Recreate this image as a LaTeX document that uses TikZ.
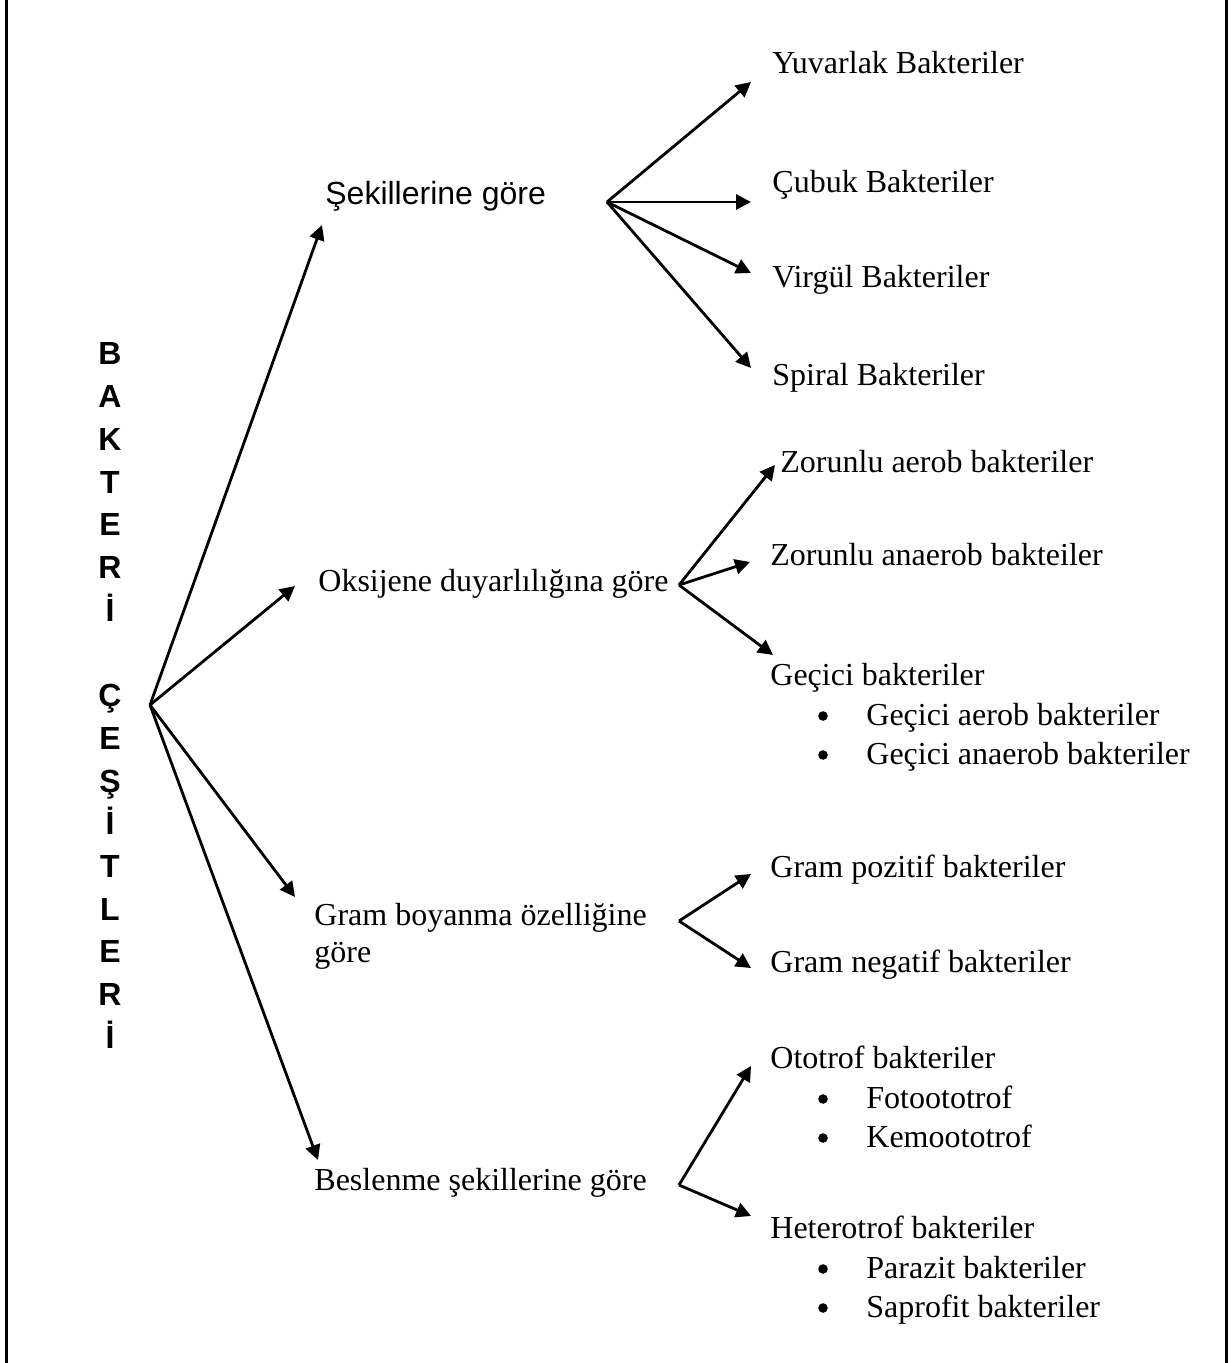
\documentclass[tikz,border=0pt]{standalone}
\usepackage{fontspec}
\setmainfont{Liberation Serif}
\newfontfamily\arialfont{Liberation Sans}
\usetikzlibrary{arrows.meta}
\begin{document}
\begin{tikzpicture}[x=0.5pt,y=-0.5pt,
  lbl/.style={anchor=base west,inner sep=0pt,font=\fontsize{16}{19}\selectfont},
  vlet/.style={anchor=base,inner sep=0pt,font=\arialfont\bfseries\fontsize{16}{19}\selectfont},
  arr/.style={line width=1.4pt,-{Triangle[length=7.5pt,width=7.5pt]}},
  bul/.style={circle,fill=black,inner sep=0pt,minimum size=4.8pt},
  frame/.style={line width=1.5pt}]
\useasboundingbox (0,0) rectangle (1231,1363);
% side frame lines
\coordinate (fl1) at (6.5,0); \coordinate (fl2) at (6.5,1363);
\coordinate (fr1) at (1226.5,0); \coordinate (fr2) at (1226.5,1363);
\draw[frame] (fl1) -- (fl2);
\draw[frame] (fr1) -- (fr2);
% vertical title
\foreach \l/\i [count=\n] in {B/0,A/1,K/2,T/3,E/4,R/5,İ/6,Ç/8,E/9,Ş/10,İ/11,T/12,L/13,E/14,R/15,İ/16}{
  \node[vlet] (v\n) at (110,{365+42.7*\i}) {\l};
}
% level-1 labels
\node[lbl,font=\arialfont\fontsize{16}{19}\selectfont] (sek) at (325,205) {Şekillerine göre};
\node[lbl] (oks) at (318,591) {Oksijene duyarlılığına göre};
\node[lbl] (gram) at (314,925) {Gram boyanma özelliğine};
\node[lbl] (gram2) at (314,962) {göre};
\node[lbl] (bes) at (314,1190) {Beslenme şekillerine göre};
% level-2 labels
\node[lbl] (yuv) at (772,74) {Yuvarlak Bakteriler};
\node[lbl] (cub) at (772,193) {Çubuk Bakteriler};
\node[lbl] (vir) at (772,288) {Virgül Bakteriler};
\node[lbl] (spi) at (772,386) {Spiral Bakteriler};
\node[lbl] (zae) at (780,473) {Zorunlu aerob bakteriler};
\node[lbl] (zan) at (770,565) {Zorunlu anaerob bakteiler};
\node[lbl] (gec) at (770,685) {Geçici bakteriler};
\node[lbl] (gae) at (866,725) {Geçici aerob bakteriler};
\node[lbl] (gan) at (866,764) {Geçici anaerob bakteriler};
\node[lbl] (gpo) at (770,877) {Gram pozitif bakteriler};
\node[lbl] (gne) at (770,972) {Gram negatif bakteriler};
\node[lbl] (oto) at (770,1068) {Ototrof bakteriler};
\node[lbl] (fot) at (866,1108) {Fotoototrof};
\node[lbl] (kem) at (866,1147) {Kemoototrof};
\node[lbl] (het) at (770,1238) {Heterotrof bakteriler};
\node[lbl] (par) at (866,1278) {Parazit bakteriler};
\node[lbl] (sap) at (866,1317) {Saprofit bakteriler};
% bullets
\node[bul] (b1) at (823,716) {};
\node[bul] (b2) at (823,755) {};
\node[bul] (b3) at (823,1099) {};
\node[bul] (b4) at (823,1138) {};
\node[bul] (b5) at (823,1269) {};
\node[bul] (b6) at (823,1308) {};
% hubs and tips
\coordinate (root) at (150,705);
\coordinate (tsek) at (322,225);
\coordinate (toks) at (295,586);
\coordinate (tgram) at (295,897);
\coordinate (tbes) at (318,1160);
\coordinate (hsek) at (607,202);
\coordinate (tyuv) at (751,82);
\coordinate (tcub) at (751,202);
\coordinate (tvir) at (751,273);
\coordinate (tspi) at (751,368);
\coordinate (hoks) at (679,585);
\coordinate (tzae) at (775,465);
\coordinate (tzan) at (750,562);
\coordinate (tgec) at (773,655);
\coordinate (hgram) at (679,921);
\coordinate (tgpo) at (751,874);
\coordinate (tgne) at (751,968);
\coordinate (hbes) at (679,1185);
\coordinate (toto) at (751,1066);
\coordinate (thet) at (751,1216);
% arrows
\draw[arr] (root) -- (tsek);
\draw[arr] (root) -- (toks);
\draw[arr] (root) -- (tgram);
\draw[arr] (root) -- (tbes);
\draw[arr] (hsek) -- (tyuv);
\draw[arr] (hsek) -- (tcub);
\draw[arr] (hsek) -- (tvir);
\draw[arr] (hsek) -- (tspi);
\draw[arr] (hoks) -- (tzae);
\draw[arr] (hoks) -- (tzan);
\draw[arr] (hoks) -- (tgec);
\draw[arr] (hgram) -- (tgpo);
\draw[arr] (hgram) -- (tgne);
\draw[arr] (hbes) -- (toto);
\draw[arr] (hbes) -- (thet);
\end{tikzpicture}
\end{document}
